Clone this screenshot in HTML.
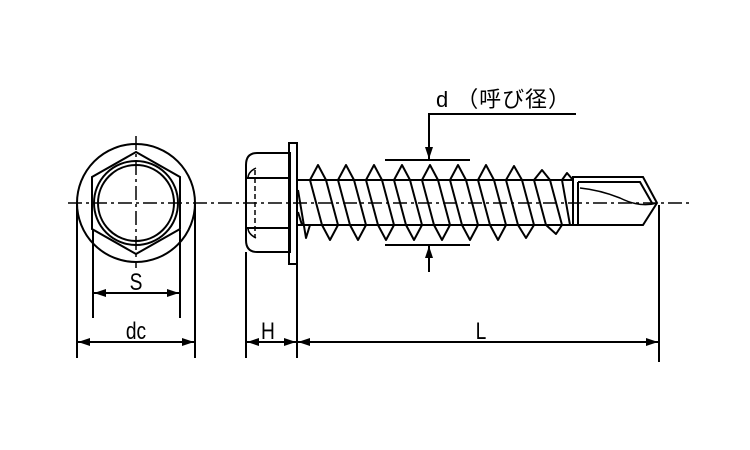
<!DOCTYPE html>
<html><head><meta charset="utf-8"><style>
html,body{margin:0;padding:0;background:#fff;}
svg{display:block;}
text{font-family:"Liberation Sans","Noto Sans CJK JP",sans-serif;fill:#000;}
</style></head><body>
<svg width="750" height="450" viewBox="0 0 750 450" xmlns="http://www.w3.org/2000/svg">
<defs>
<marker id="a" markerWidth="12" markerHeight="8" refX="12" refY="4" orient="auto" markerUnits="userSpaceOnUse"><path d="M0,0 L12,4 L0,8 Z" fill="#000"/></marker>
</defs>
<g stroke="#000" fill="none" stroke-width="2">
<circle cx="136" cy="203" r="59"/>
<polygon points="136,152 180,177 180,229 136,254 92,229 92,177"/>
<circle cx="136" cy="203" r="42"/>
<circle cx="136" cy="203" r="38"/>
<path d="M257,153 H290 V252 H257 Q246,252 246,240 V165 Q246,153 257,153 Z"/>
<line x1="246" y1="178" x2="290" y2="178"/>
<line x1="246" y1="228" x2="290" y2="228"/>
<path d="M256,168 q-8,4 -8,10 M256,238 q-8,-4 -8,-10" stroke-width="1.5"/>
<line x1="255" y1="170" x2="255" y2="238" stroke-dasharray="5,3" stroke-width="1.5"/>
<rect x="289" y="143" width="8" height="121"/>
<line x1="297" y1="180" x2="573" y2="180"/>
<line x1="297" y1="225" x2="573" y2="225"/>
<g stroke-linejoin="round">
<polygon points="310,180 318,165 326,180 338,225 330,240 322,225"/>
<polygon points="338,180 346,165 354,180 366,225 358,240 350,225"/>
<polygon points="366,180 374,165 382,180 394,225 386,240 378,225"/>
<polygon points="394,180 402,165 410,180 422,225 414,240 406,225"/>
<polygon points="422,180 430,165 438,180 450,225 442,240 434,225"/>
<polygon points="450,180 458,165 466,180 478,225 470,240 462,225"/>
<polygon points="478,180 486,165 494,180 506,225 498,240 490,225"/>
<polygon points="506,180 514,166 522,180 534,225 526,238 518,225"/>
<polygon points="534,180 542,170 550,180 562,225 556,234 546,225"/>
<polygon points="562,180 567,173 573,180 573,225 570,225"/>
<path d="M298,190 L306,238 L310,225 M298,212 L302,225"/>
</g>
<path d="M573,177 H643 L657,203 L643,225 H573 Z"/>
<line x1="578" y1="182" x2="578" y2="225"/>
<path d="M578,182 H640 L652,203"/>
<path d="M580,188 Q600,190 620,198 Q640,208 657,203" stroke-width="1.5"/>
</g>
<g stroke="#000" stroke-width="1.5" fill="none" stroke-dasharray="14,4,3,4">
<line x1="68" y1="203" x2="690" y2="203"/>
<line x1="136" y1="136" x2="136" y2="268"/>
</g>
<g stroke="#000" stroke-width="2" fill="none">
<line x1="93" y1="230" x2="93" y2="318"/>
<line x1="180" y1="230" x2="180" y2="318"/>
<line x1="77" y1="203" x2="77" y2="358"/>
<line x1="195" y1="203" x2="195" y2="358"/>
<line x1="246" y1="252" x2="246" y2="358"/>
<line x1="297" y1="264" x2="297" y2="358"/>
<line x1="659" y1="205" x2="659" y2="362"/>
<line x1="136" y1="293" x2="94" y2="293" marker-end="url(#a)"/>
<line x1="136" y1="293" x2="179" y2="293" marker-end="url(#a)"/>
<line x1="136" y1="342" x2="78" y2="342" marker-end="url(#a)"/>
<line x1="136" y1="342" x2="194" y2="342" marker-end="url(#a)"/>
<line x1="271" y1="342" x2="247" y2="342" marker-end="url(#a)"/>
<line x1="271" y1="342" x2="296" y2="342" marker-end="url(#a)"/>
<line x1="480" y1="342" x2="298" y2="342" marker-end="url(#a)"/>
<line x1="480" y1="342" x2="658" y2="342" marker-end="url(#a)"/>
<line x1="385" y1="160" x2="470" y2="160"/>
<line x1="385" y1="245" x2="470" y2="245"/>
<polyline points="576,114 429,114 429,159" marker-end="url(#a)"/>
<line x1="429" y1="272" x2="429" y2="246" marker-end="url(#a)"/>
</g>
<text x="136" y="290" font-size="24" text-anchor="middle" transform="translate(136 0) scale(0.8 1) translate(-136 0)">S</text>
<text x="136" y="339" font-size="24" text-anchor="middle" transform="translate(136 0) scale(0.8 1) translate(-136 0)">dc</text>
<text x="268" y="339" font-size="24" text-anchor="middle" transform="translate(268 0) scale(0.8 1) translate(-268 0)">H</text>
<text x="481" y="339" font-size="24" text-anchor="middle" transform="translate(481 0) scale(0.8 1) translate(-481 0)">L</text>
<text x="436" y="107" font-size="22" textLength="134" lengthAdjust="spacing">d （呼び径）</text>
</svg>
</body></html>
